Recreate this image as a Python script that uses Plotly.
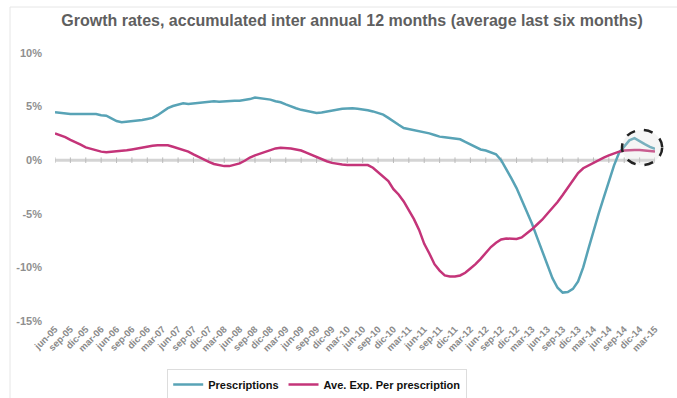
import plotly.graph_objects as go

# Quarterly tick labels (Spanish month abbreviations), one month per data point
tick_labels = [
    "jun-05", "sep-05", "dic-05", "mar-06", "jun-06", "sep-06", "dic-06", "mar-07",
    "jun-07", "sep-07", "dic-07", "mar-08", "jun-08", "sep-08", "dic-08", "mar-09",
    "jun-09", "sep-09", "dic-09", "mar-10", "jun-10", "sep-10", "dic-10", "mar-11",
    "jun-11", "sep-11", "dic-11", "mar-12", "jun-12", "sep-12", "dic-12", "mar-13",
    "jun-13", "sep-13", "dic-13", "mar-14", "jun-14", "sep-14", "dic-14", "mar-15",
]

# Monthly growth rates (%), jun-05 .. mar-15
prescriptions = [
    4.47, 4.40, 4.35, 4.30, 4.30, 4.30, 4.35, 4.37, 4.30, 4.20,
    4.15, 3.90, 3.65, 3.55, 3.60, 3.60, 3.70, 3.75, 3.85, 3.95,
    4.20, 4.50, 4.85, 5.05, 5.20, 5.30, 5.25, 5.30, 5.35, 5.40,
    5.50, 5.50, 5.45, 5.50, 5.55, 5.55, 5.55, 5.60, 5.70, 5.85,
    5.80, 5.70, 5.65, 5.50, 5.40, 5.20, 5.00, 4.85, 4.70, 4.60,
    4.50, 4.40, 4.45, 4.55, 4.65, 4.72, 4.80, 4.82, 4.85, 4.80,
    4.75, 4.65, 4.55, 4.40, 4.25, 3.95, 3.60, 3.30, 3.00, 2.90,
    2.85, 2.70, 2.60, 2.50, 2.35, 2.20, 2.15, 2.10, 2.00, 1.95,
    1.70, 1.45, 1.20, 1.00, 0.90, 0.75, 0.55, 0.00, -0.80, -1.70,
    -2.60, -3.70, -4.70, -5.90, -7.20, -8.50, -9.80, -11.00, -11.90, -12.35,
    -12.30, -12.00, -11.30, -10.00, -8.30, -6.60, -5.00, -3.50, -2.00, -0.50,
    0.70, 1.30, 1.85, 2.05, 1.75, 1.50, 1.25, 1.05,
]

avg_exp_per_prescription = [
    2.50, 2.35, 2.15, 1.90, 1.70, 1.45, 1.20, 1.05, 0.90, 0.80,
    0.75, 0.78, 0.82, 0.86, 0.92, 1.00, 1.10, 1.20, 1.30, 1.35,
    1.40, 1.42, 1.40, 1.25, 1.10, 0.95, 0.80, 0.55, 0.30, 0.05,
    -0.15, -0.35, -0.48, -0.55, -0.55, -0.45, -0.30, -0.05, 0.25, 0.45,
    0.60, 0.80, 0.95, 1.10, 1.15, 1.15, 1.10, 1.00, 0.90, 0.70,
    0.50, 0.25, 0.05, -0.10, -0.25, -0.35, -0.40, -0.45, -0.45, -0.45,
    -0.40, -0.45, -0.70, -1.10, -1.55, -1.95, -2.70, -3.20, -3.85, -4.70,
    -5.50, -6.50, -7.80, -8.70, -9.70, -10.30, -10.75, -10.85, -10.85, -10.75,
    -10.50, -10.10, -9.70, -9.20, -8.60, -8.10, -7.70, -7.40, -7.30, -7.30,
    -7.35, -7.20, -6.85, -6.45, -6.00, -5.55, -5.00, -4.50, -3.90, -3.25,
    -2.55, -1.85, -1.20, -0.75, -0.50, -0.20, 0.05, 0.25, 0.45, 0.65,
    0.80, 0.90, 0.95, 0.95, 0.95, 0.90, 0.85, 0.80,
]

y_ticks = [10, 5, 0, -5, -10, -15]
y_tick_text = ["10%", "5%", "0%", "-5%", "-10%", "-15%"]

x_idx = list(range(len(prescriptions)))
tick_pos = [3 * k for k in range(len(tick_labels))]

BLUE = "#58a3b6"
PINK = "#c43479"
FONT = "Liberation Sans, Arial, sans-serif"

fig = go.Figure()

# zero reference line with small quarter marks
fig.add_trace(go.Scatter(
    x=[x_idx[0], x_idx[-1]], y=[0, 0], mode="lines",
    line=dict(color="#d4d4d4", width=3), hoverinfo="skip", showlegend=False,
))
fig.add_trace(go.Scatter(
    x=tick_pos, y=[0] * len(tick_pos), mode="markers",
    marker=dict(symbol="line-ns", size=4, line=dict(color="#bbbbbb", width=1)),
    hoverinfo="skip", showlegend=False,
))

fig.add_trace(go.Scatter(
    x=x_idx, y=prescriptions, mode="lines", name="Prescriptions",
    line=dict(color=BLUE, width=2.5),
))
fig.add_trace(go.Scatter(
    x=x_idx, y=avg_exp_per_prescription, mode="lines",
    name="Ave. Exp. Per prescription",
    line=dict(color=PINK, width=2.5),
))

# dashed highlight around the latest months (may extend past the right edge)
fig.add_shape(
    type="circle", xref="paper", yref="y",
    x0=0.945, x1=1.012, y0=-0.45, y1=2.82,
    line=dict(color="#222222", width=2.5, dash="dash"),
    fillcolor="rgba(215,215,215,0.25)", layer="above",
)

# outer frame of the chart
fig.add_shape(
    type="rect", xref="paper", yref="paper",
    x0=(10 - 55) / 600, x1=(690 - 55) / 600,
    y0=(321 - 410) / 268, y1=(321 - 7) / 268,
    line=dict(color="#e6e6e6", width=1), fillcolor="rgba(0,0,0,0)", layer="below",
)

fig.update_layout(
    width=677, height=398,
    margin=dict(l=55, r=22, t=53, b=77, autoexpand=False),
    paper_bgcolor="white", plot_bgcolor="white",
    font=dict(family=FONT, color="#666666"),
    title=dict(
        text="Growth rates, accumulated inter annual 12 months (average last six months)",
        x=0.52, xanchor="center", y=1 - 20 / 398, yanchor="middle",
        font=dict(family=FONT, size=16, color="#5f5f5f", weight="bold"),
    ),
    xaxis=dict(
        range=[0, 117], tickmode="array", tickvals=tick_pos, ticktext=tick_labels,
        tickangle=-45, showgrid=False, zeroline=False, showline=False, ticks="",
        automargin=False,
        tickfont=dict(family=FONT, size=9.5, color="#8a8a8a", weight="bold"),
    ),
    yaxis=dict(
        range=[-15, 10], tickmode="array", tickvals=y_ticks, ticktext=y_tick_text,
        showgrid=False, zeroline=False, showline=False, ticks="",
        ticklabelstandoff=12, automargin=False,
        tickfont=dict(family=FONT, size=11, color="#8f8f8f", weight="bold"),
    ),
    legend=dict(
        orientation="h", x=0.437, xanchor="center", y=(321 - 369) / 268, yanchor="top",
        bordercolor="#dddddd", borderwidth=1, bgcolor="white",
        font=dict(family=FONT, size=11, color="#111111", weight="bold"),
        itemwidth=30, tracegroupgap=0,
    ),
    showlegend=True,
)

fig.write_html("out.html")
